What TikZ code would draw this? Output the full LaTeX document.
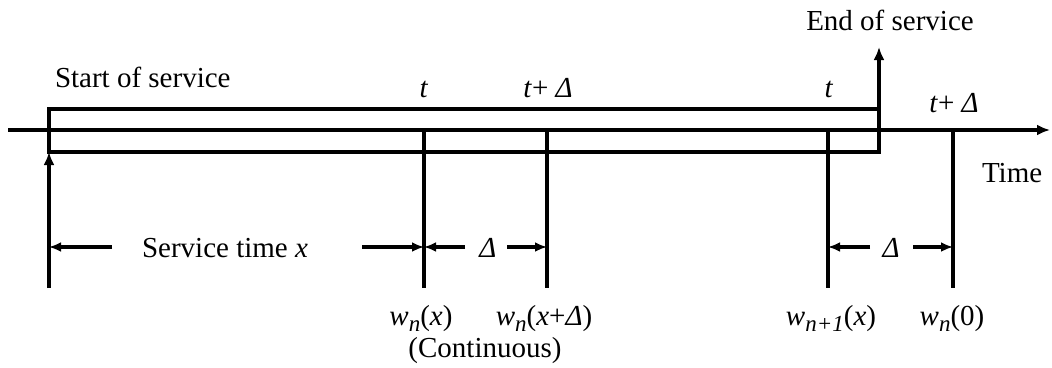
\documentclass[tikz,border=0pt]{standalone}
\usepackage{fontspec}
\setmainfont{Liberation Serif}
\usetikzlibrary{arrows.meta}
\tikzset{
  tip/.style={
    -{Latex[length=13pt,width=11pt]}
  },
  dim/.style={
    -{Latex[length=12pt,width=10pt]}
  },
  lbl/.style={
    anchor = base,
    inner sep = 0pt
  },
  lblW/.style={
    anchor = base west,
    inner sep = 0pt
  }
}
\newcommand{\vt}{\textit{t}}
\newcommand{\vD}{\textit{Δ}}
\newcommand{\wsub}[2]{\textit{w}\raisebox{-6pt}{\fontsize{23}{25}\selectfont\textit{#1}}(#2)}

\begin{document}
\begin{tikzpicture}[x=1pt,y=-1pt,line width=4pt,font=\fontsize{29}{34}\selectfont]
        \useasboundingbox (0,0) rectangle (1052,367);
        % time axis and service box
        \coordinate (ax0) at (8,130);
        \coordinate (ax1) at (1050,130);
        \draw[tip] (ax0)--(ax1);
        \coordinate (box0) at (49,109);
        \coordinate (box1) at (879,152);
        \draw (box0) rectangle (box1);
        \coordinate (st0) at (49,288);
        \coordinate (st1) at (49,152);
        \draw[tip] (st0)--(st1);
        \coordinate (en1) at (879,47);
        \draw[tip] (box1)--(en1);
        % ticks
        \foreach \nm/\x in {ta/424,tb/547,tc/828,td/953}{
            \coordinate (\nm0) at (\x,130);
            \coordinate (\nm1) at (\x,288);
            \draw (\nm0)--(\nm1);
        }
        % dimension arrows
        \coordinate (sv0) at (112,247);
        \coordinate (sv1) at (362,247);
        \draw[dim] (sv0)--(st1|-sv0);
        \draw[dim] (sv1)--(ta0|-sv1);
        \coordinate (da0) at (465,247);
        \coordinate (da1) at (507,247);
        \draw[dim] (da0)--(ta0|-da0);
        \draw[dim] (da1)--(tb0|-da1);
        \coordinate (db0) at (870,247);
        \coordinate (db1) at (913,247);
        \draw[dim] (db0)--(tc0|-db0);
        \draw[dim] (db1)--(td0|-db1);
        % labels
        \node[lblW] (start) at (53,87) {Start of service};
        \node[lbl] (endsv) at (890,30) {End of service};
        \node[lblW] (time) at (980,182) {Time};
        \node[lbl] (ta) at (424,97) {\vt};
        \node[lbl] (tb) at (548,97) {\vt+ \vD};
        \node[lbl] (tc) at (829,97) {\vt};
        \node[lbl] (td) at (954,112) {\vt+ \vD};
        \node[lbl] (svt) at (225,257) {Service time \textit{x}};
        \node[lbl] (dla) at (488,257) {\vD};
        \node[lbl] (dlb) at (891,257) {\vD};
        \node[lbl] (wa) at (421,325) {\wsub{n}{\textit{x}}};
        \node[lbl] (wb) at (544,325) {\wsub{n}{\textit{x}+\vD}};
        \node[lbl] (cont) at (485,357) {(Continuous)};
        \node[lbl] (wc) at (831,325) {\wsub{n+1}{\textit{x}}};
        \node[lbl] (wd) at (952,325) {\wsub{n}{0}};
\end{tikzpicture}
\end{document}
